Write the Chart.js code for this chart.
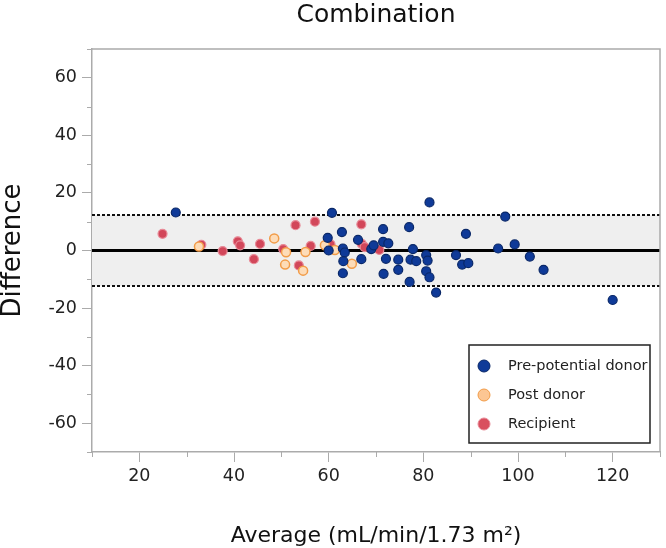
<!DOCTYPE html>
<html>
<head>
<meta charset="utf-8">
<script src="https://cdn.jsdelivr.net/npm/chart.js@4/dist/chart.umd.min.js"></script>
<style>
  html, body { margin: 0; padding: 0; background: #fff; }
  #wrap { width: 666px; height: 548px; }
</style>
</head>
<body>
<div id="wrap"><canvas id="grafico"></canvas></div>
<script>
// Pre-potential donor
const preAvg = [27.7, 59.8, 60.0, 60.7, 62.8, 63.0, 63.4, 63.1, 63.0, 66.2, 66.9, 69.0, 69.5, 71.5, 71.5, 72.6, 72.1, 71.6, 74.7, 74.7, 77.0, 77.8, 77.3, 78.5, 77.1, 80.6, 80.9, 80.6, 81.3, 81.3, 82.7, 86.9, 88.2, 89.5, 89.0, 95.8, 97.3, 99.3, 102.5, 105.4, 120.0];
const preDiff = [13.2, 4.4, 0.0, 13.1, 6.4, 0.7, -0.7, -3.7, -7.9, 3.7, -3.0, 0.5, 1.8, 7.4, 3.0, 2.5, -2.9, -8.1, -3.2, -6.7, 8.1, 0.5, -3.2, -3.7, -10.9, -1.6, -3.5, -7.2, -9.3, 16.7, -14.6, -1.6, -4.9, -4.4, 5.8, 0.7, 11.8, 2.1, -2.1, -6.7, -17.2];

// Post donor
const postAvg = [32.6, 48.5, 51.0, 50.8, 54.6, 55.1, 59.2, 61.3, 64.9];
const postDiff = [1.4, 4.2, -0.6, -4.9, -7.0, -0.5, 1.8, 0.2, -4.6];

// Recipient
const recAvg = [24.9, 33.1, 37.6, 40.8, 41.3, 45.5, 44.2, 50.4, 53.0, 53.7, 56.2, 57.1, 60.4, 66.9, 67.0, 67.6, 70.7];
const recDiff = [5.8, 2.0, -0.2, 3.2, 1.8, 2.3, -3.0, 0.5, 8.8, -5.2, 1.6, 10.0, 2.1, 9.1, 2.3, 1.2, 0.2];

// media e limites de concordancia
const mediaDif = 0;
const limiteSup = 12.3;
const limiteInf = -12.3;

const xMin = 10, xMax = 130;
const yMin = -70, yMax = 70;

function pares(xs, ys) {
    return xs.map((x, i) => ({ x: x, y: ys[i] }));
}

function linhaH(v) {
    return [{ x: xMin, y: v }, { x: xMax, y: v }];
}

const corEixo = '#ababab';
const ehMaior = v => v % 20 === 0;

// bordas superior/direita, ticks menores e legenda
const molduraPlugin = {
    id: 'moldura',
    afterDraw(chart) {
        const ctx = chart.ctx;
        const a = chart.chartArea;
        const sx = chart.scales.x, sy = chart.scales.y;
        ctx.save();
        ctx.strokeStyle = corEixo;
        ctx.lineWidth = 1.5;
        ctx.beginPath();
        ctx.moveTo(a.left, a.top);
        ctx.lineTo(a.right, a.top);
        ctx.lineTo(a.right, a.bottom);
        ctx.stroke();

        ctx.lineWidth = 1;
        ctx.beginPath();
        sx.ticks.forEach(t => {
            if (ehMaior(t.value)) return;
            const px = Math.round(sx.getPixelForValue(t.value)) + 0.5;
            ctx.moveTo(px, a.bottom);
            ctx.lineTo(px, a.bottom + 5);
        });
        sy.ticks.forEach(t => {
            if (ehMaior(t.value)) return;
            const py = Math.round(sy.getPixelForValue(t.value)) + 0.5;
            ctx.moveTo(a.left, py);
            ctx.lineTo(a.left - 5, py);
        });
        ctx.stroke();

        // legenda
        const w = 181, h = 98;
        const left = a.right - 10 - w;
        const top = a.bottom - 9 - h;
        ctx.fillStyle = '#fff';
        ctx.fillRect(left, top, w, h);
        ctx.strokeStyle = '#222';
        ctx.lineWidth = 1.5;
        ctx.strokeRect(left, top, w, h);
        ctx.font = '14.5px "DejaVu Sans"';
        ctx.textBaseline = 'middle';
        chart.data.datasets.slice(0, 3).forEach((ds, i) => {
            const cy = top + 21 + i * 29;
            ctx.beginPath();
            ctx.arc(left + 15, cy, 6, 0, Math.PI * 2);
            ctx.fillStyle = ds.legendFill;
            ctx.fill();
            ctx.lineWidth = 1;
            ctx.strokeStyle = ds.borderColor;
            ctx.stroke();
            ctx.fillStyle = '#222';
            ctx.fillText(ds.label, left + 39, cy);
        });
        ctx.restore();
    }
};

const ctx = document.getElementById('grafico');

new Chart(ctx, {
    type: 'scatter',
    data: {
        datasets: [
            {
                label: 'Pre-potential donor',
                data: pares(preAvg, preDiff),
                backgroundColor: '#0f3a98',
                borderColor: '#0a2868',
                legendFill: '#0f3a98',
                pointRadius: 4.5,
                borderWidth: 1.2,
                order: 0
            },
            {
                label: 'Post donor',
                data: pares(postAvg, postDiff),
                backgroundColor: '#fddcb8',
                borderColor: '#f29c48',
                legendFill: '#fcc693',
                pointRadius: 4.5,
                borderWidth: 1.5,
                order: 0
            },
            {
                label: 'Recipient',
                data: pares(recAvg, recDiff),
                backgroundColor: '#d2475a',
                borderColor: '#e88a97',
                legendFill: '#d9505f',
                pointRadius: 4.5,
                borderWidth: 1.2,
                order: 0
            },
            {
                type: 'line',
                label: 'limite sup',
                data: linhaH(limiteSup),
                borderColor: '#111',
                borderWidth: 2,
                borderDash: [3, 2],
                pointRadius: 0,
                fill: 5,
                backgroundColor: '#efefef',
                order: 3
            },
            {
                type: 'line',
                label: 'media',
                data: linhaH(mediaDif),
                borderColor: '#000',
                borderWidth: 3,
                pointRadius: 0,
                fill: false,
                order: 1
            },
            {
                type: 'line',
                label: 'limite inf',
                data: linhaH(limiteInf),
                borderColor: '#111',
                borderWidth: 2,
                borderDash: [3, 2],
                pointRadius: 0,
                fill: false,
                order: 2
            }
        ]
    },
    options: {
        responsive: true,
        maintainAspectRatio: false,
        animation: false,
        layout: { padding: { top: 0, right: 3, bottom: 0, left: 0 } },
        plugins: {
            legend: { display: false },
            tooltip: { enabled: false },
            title: {
                display: true,
                text: 'Combination',
                fullSize: false,
                color: '#111',
                font: { family: 'DejaVu Sans', size: 25, weight: 'normal', lineHeight: 1 },
                padding: { top: 3, bottom: 21 }
            }
        },
        scales: {
            x: {
                type: 'linear',
                min: xMin,
                max: xMax,
                afterFit: s => { s.height = 96; },
                border: { color: corEixo, width: 1.5 },
                grid: {
                    drawOnChartArea: false,
                    tickLength: 10,
                    tickColor: c => ehMaior(c.tick.value) ? corEixo : 'rgba(0,0,0,0)'
                },
                ticks: {
                    stepSize: 10,
                    autoSkip: false,
                    maxRotation: 0,
                    padding: 4,
                    color: '#222',
                    font: { family: 'DejaVu Sans', size: 17.5 },
                    callback: v => ehMaior(v) ? String(v) : ''
                },
                title: {
                    display: true,
                    text: 'Average (mL/min/1.73 m²)',
                    color: '#111',
                    font: { family: 'DejaVu Sans', size: 22, lineHeight: 1 },
                    padding: { top: 0, bottom: 1 }
                }
            },
            y: {
                type: 'linear',
                min: yMin,
                max: yMax,
                afterFit: s => { s.width = 92; },
                border: { color: corEixo, width: 1.5 },
                grid: {
                    drawOnChartArea: false,
                    tickLength: 10,
                    tickColor: c => ehMaior(c.tick.value) ? corEixo : 'rgba(0,0,0,0)'
                },
                ticks: {
                    stepSize: 10,
                    autoSkip: false,
                    padding: 5,
                    color: '#222',
                    font: { family: 'DejaVu Sans', size: 17.5 },
                    callback: v => ehMaior(v) ? String(v) : ''
                },
                title: {
                    display: true,
                    text: 'Difference',
                    color: '#111',
                    font: { family: 'DejaVu Sans', size: 26, lineHeight: 1 },
                    padding: { top: 0, bottom: 0 }
                }
            }
        }
    },
    plugins: [molduraPlugin]
});
</script>
</body>
</html>
